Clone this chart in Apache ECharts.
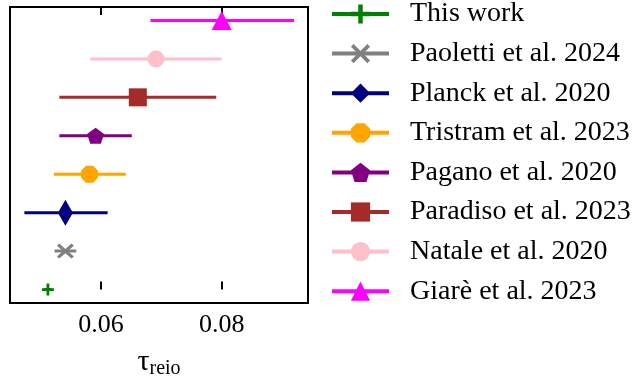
<!DOCTYPE html>
<html><head><meta charset="utf-8">
<script src="https://cdn.jsdelivr.net/npm/echarts@6/dist/echarts.min.js"></script>
<style>html,body{margin:0;padding:0;background:#fff}#c{width:634px;height:378px}</style>
</head><body><div id="c"></div>
<script>
// ---- data (bottom row first) ----
const names   = ['This work','Paoletti et al. 2024','Planck et al. 2020','Tristram et al. 2023','Pagano et al. 2020','Paradiso et al. 2023','Natale et al. 2020','Giarè et al. 2023'];
const centers = [0.0512, 0.0541, 0.0541, 0.0581, 0.0591, 0.0661, 0.0691, 0.0800];
const lowers  = [0.0506, 0.0523, 0.0473, 0.0522, 0.0531, 0.0531, 0.0582, 0.0682];
const uppers  = [0.0518, 0.0559, 0.0611, 0.0641, 0.0651, 0.0791, 0.0800, 0.0920];
const xTicks  = [0.06, 0.08];

const colors  = ['#008000','#808080','#000080','#FFA500','#800080','#A52A2A','#FFC0CB','#FF00FF'];
const plusPath = 'path://M-1.4,-6L1.4,-6L1.4,-1.4L6,-1.4L6,1.4L1.4,1.4L1.4,6L-1.4,6L-1.4,1.4L-6,1.4L-6,-1.4L-1.4,-1.4Z';
const xPath = 'path://M-6,-4.3L-4.3,-6L0,-1.7L4.3,-6L6,-4.3L1.7,0L6,4.3L4.3,6L0,1.7L-4.3,6L-6,4.3L-1.7,0Z';
const octPath = 'path://M-2.9,-7L2.9,-7L7,-2.9L7,2.9L2.9,7L-2.9,7L-7,2.9L-7,-2.9Z';
const pentPath = 'path://M0,-7.5L7.1,-2.3L4.4,6.1L-4.4,6.1L-7.1,-2.3Z';
const symbols = [plusPath, xPath, 'diamond', octPath, pentPath, 'rect', 'circle', 'triangle'];
const sizes   = [[12,12],[17,15],[15,26],[17,17],[17,16],[18,18],[17,17],[20,19]];

const series = names.map((n,i)=>({
  name: n, type: 'line', animation: false, silent: true,
  color: colors[i],
  symbol: symbols[i], symbolSize: sizes[i], showAllSymbol: true,
  lineStyle: {width: 3, color: colors[i]},
  itemStyle: {color: colors[i], opacity: 1},
  data: [
    {value: [lowers[i], i], symbol: 'none'},
    {value: [centers[i], i]},
    {value: [uppers[i], i], symbol: 'none'}
  ],
  z: 2 + i
}));

const chart = echarts.init(document.getElementById('c'), null, {renderer: 'canvas'});
const xMin = 0.04492, xMax = 0.0943;
chart.setOption({
  backgroundColor: '#fff',
  animation: false,
  grid: {left: 10, right: 326, top: 7, bottom: 75, show: true, borderColor: '#000', borderWidth: 2, backgroundColor: 'transparent',
    containLabel: false, outerBoundsMode: 'none'},
  xAxis: [{
    type: 'value', min: xMin, max: xMax, position: 'bottom',
    axisLine: {show: false},
    splitLine: {show: false},
    axisTick: {show: true, inside: true, length: 8, customValues: xTicks, lineStyle: {color: '#000', width: 2}},
    axisLabel: {show: true, customValues: xTicks, margin: 9, color: '#000', fontFamily: 'Liberation Serif', fontSize: 26,
      formatter: v => v.toFixed(2)},
    name: '{a|τ}{b|reio}', nameLocation: 'middle', nameGap: 42,
    nameTextStyle: {rich: {
      a: {fontFamily: 'Liberation Serif', fontSize: 30, color: '#000'},
      b: {fontFamily: 'Liberation Serif', fontSize: 20, color: '#000', padding: [14,0,0,0]}
    }}
  },{
    type: 'value', min: xMin, max: xMax, position: 'top',
    axisLine: {show: false}, splitLine: {show: false},
    axisTick: {show: true, inside: true, length: 8, customValues: xTicks, lineStyle: {color: '#000', width: 2}},
    axisLabel: {show: false}
  }],
  yAxis: {type: 'value', min: -0.35, max: 7.35, show: true,
    axisLine: {show: false}, axisTick: {show: false}, axisLabel: {show: false}, splitLine: {show: false}},
  legend: {
    orient: 'vertical', left: 330, top: 0, padding: 0,
    itemWidth: 57, itemHeight: 24, itemGap: 11.6,
    data: names.slice(),
    selectedMode: false,
    lineStyle: {width: 4},
    textStyle: {fontFamily: 'Liberation Serif', fontSize: 28, lineHeight: 28, color: '#000', padding: [0,0,0,16]}
  },
  series: series
});
</script></body></html>
